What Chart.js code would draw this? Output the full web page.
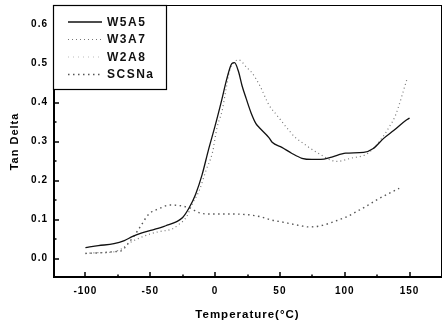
<!DOCTYPE html>
<html>
<head>
<meta charset="utf-8">
<script src="https://cdn.jsdelivr.net/npm/chart.js@4.4.1/dist/chart.umd.min.js"></script>
<style>
html,body{margin:0;padding:0;background:#fff;}
#c{display:block;}
</style>
</head>
<body>
<canvas id="c" width="443" height="328"></canvas>
<script>
// ---- data ----
const seriesNames = ["W5A5", "W3A7", "W2A8", "SCSNa"];

const w5a5Temp = [-100,-90,-78,-70,-64,-57,-51,-44,-38,-30,-25,-20,-15,-10,-5,0,5,9,13,15,18,20.8,24,27.7,31.5,34,41.5,44,51.5,59,67,74.6,81.5,90,100.7,114.6,122,130,137.7,147,150];
const w5a5Val  = [0.028,0.033,0.038,0.046,0.056,0.065,0.071,0.077,0.084,0.094,0.105,0.13,0.165,0.215,0.28,0.34,0.405,0.46,0.50,0.502,0.48,0.443,0.41,0.374,0.346,0.336,0.31,0.298,0.285,0.27,0.257,0.254,0.254,0.26,0.27,0.272,0.282,0.308,0.328,0.354,0.36];

const w3a7Temp = [-100,-90,-80,-72,-66,-60,-50,-43,-33,-28,-22,-18,-12,-7,-2,1.5,5.5,8.5,11,15,18.5,24.6,28.5,35,41.5,48.5,54.6,62,66,78.5,94,104.6,118,128.5,135,139,148];
const w3a7Val  = [0.013,0.015,0.016,0.025,0.04,0.05,0.063,0.069,0.076,0.087,0.107,0.137,0.176,0.226,0.272,0.336,0.38,0.435,0.48,0.505,0.509,0.489,0.476,0.44,0.394,0.364,0.338,0.31,0.30,0.272,0.249,0.257,0.27,0.308,0.341,0.366,0.46];

// W2A8 is listed in the legend but no separate curve can be distinguished in the picture
const w2a8Temp = [];
const w2a8Val  = [];

const scsnaTemp = [-100,-87,-76,-72,-68,-62,-58,-51,-43,-35,-28,-20,-12,-5,3,13,26,35,43,51,58.5,66,72,78,85,92,101.5,109,117,126,136,142];
const scsnaVal  = [0.013,0.015,0.018,0.02,0.035,0.06,0.08,0.114,0.128,0.137,0.136,0.13,0.117,0.114,0.114,0.114,0.112,0.107,0.099,0.094,0.089,0.084,0.081,0.082,0.087,0.095,0.107,0.12,0.135,0.153,0.17,0.18];

const xTicks = [-100, -50, 0, 50, 100, 150];
const yTicks = [0.0, 0.1, 0.2, 0.3, 0.4, 0.5, 0.6];
const xMinorTicks = [-75, -25, 25, 75, 125];
const yMinorTicks = [0.05, 0.15, 0.25, 0.35, 0.45, 0.55];

const toPts = (xs, ys) => xs.map((x, i) => ({x: x, y: ys[i]}));

const FONT = "'Liberation Sans', Arial, sans-serif";

const spacing = {
  id: 'spacing',
  beforeDraw(chart) { chart.ctx.letterSpacing = '1px'; }
};

const frameAndTicks = {
  id: 'frameAndTicks',
  afterDatasetsDraw(chart) {
    const ctx = chart.ctx, a = chart.chartArea;
    const xs = chart.scales.x, ys = chart.scales.y;
    ctx.save();
    ctx.strokeStyle = '#000';
    ctx.lineWidth = 1;
    ctx.beginPath();
    ctx.moveTo(a.left, a.top + 0.5); ctx.lineTo(a.right, a.top + 0.5);
    ctx.moveTo(a.right - 0.5, a.top); ctx.lineTo(a.right - 0.5, a.bottom);
    ctx.stroke();
    ctx.lineWidth = 2;
    ctx.beginPath();
    ctx.moveTo(a.left + 1, a.top); ctx.lineTo(a.left + 1, a.bottom);
    ctx.moveTo(a.left, a.bottom - 1); ctx.lineTo(a.right, a.bottom - 1);
    ctx.stroke();
    ctx.lineWidth = 1.5;
    ctx.beginPath();
    xTicks.forEach(v => { const p = Math.round(xs.getPixelForValue(v)); ctx.moveTo(p, a.bottom); ctx.lineTo(p, a.bottom - 6); });
    xMinorTicks.forEach(v => { const p = Math.round(xs.getPixelForValue(v)); ctx.moveTo(p, a.bottom); ctx.lineTo(p, a.bottom - 3.5); });
    yTicks.forEach(v => { const p = Math.round(ys.getPixelForValue(v)); ctx.moveTo(a.left, p); ctx.lineTo(a.left + 6, p); });
    yMinorTicks.forEach(v => { const p = Math.round(ys.getPixelForValue(v)); ctx.moveTo(a.left, p); ctx.lineTo(a.left + 3.5, p); });
    ctx.stroke();
    ctx.restore();
  }
};

const boxLegend = {
  id: 'boxLegend',
  afterDraw(chart) {
    const ctx = chart.ctx, a = chart.chartArea;
    const L = a.left, T = a.top, W = 113, H = 84;
    ctx.save();
    ctx.fillStyle = '#fff';
    ctx.fillRect(L, T, W, H);
    ctx.strokeStyle = '#000';
    ctx.lineWidth = 1.2;
    ctx.strokeRect(L + 0.5, T + 0.5, W, H);
    ctx.font = 'bold 12px ' + FONT;
    ctx.letterSpacing = '1.5px';
    ctx.textBaseline = 'middle';
    chart.data.datasets.forEach((ds, i) => {
      const y = T + 17 + i * 17.5;
      ctx.strokeStyle = ds.borderColor;
      ctx.lineWidth = ds.borderWidth;
      ctx.setLineDash(ds.borderDash || []);
      ctx.beginPath();
      ctx.moveTo(L + 15, y); ctx.lineTo(L + 49, y);
      ctx.stroke();
      ctx.setLineDash([]);
      ctx.fillStyle = '#111';
      ctx.fillText(ds.label, L + 54, y + 0.5);
    });
    ctx.restore();
  }
};

const mk = (label, xs, ys, color, width, dash) => ({
  label: label,
  data: toPts(xs, ys),
  borderColor: color,
  borderWidth: width,
  borderDash: dash,
  pointRadius: 0,
  fill: false,
  cubicInterpolationMode: 'monotone'
});

new Chart(document.getElementById('c'), {
  type: 'line',
  data: {
    datasets: [
      mk(seriesNames[0], w5a5Temp, w5a5Val, '#111', 1.3, []),
      mk(seriesNames[1], w3a7Temp, w3a7Val, '#777', 1.2, [1, 3]),
      mk(seriesNames[2], w2a8Temp, w2a8Val, '#bbb', 1.2, [1, 4]),
      mk(seriesNames[3], scsnaTemp, scsnaVal, '#555', 1.4, [1.5, 3.5])
    ]
  },
  options: {
    responsive: false,
    animation: false,
    devicePixelRatio: 1,
    layout: { padding: { top: 5, right: 1, left: 0, bottom: 0 } },
    plugins: { legend: { display: false }, tooltip: { enabled: false } },
    scales: {
      x: {
        type: 'linear', min: -125, max: 175,
        grid: { display: false, drawTicks: false },
        border: { display: false },
        afterBuildTicks: s => { s.ticks = xTicks.map(v => ({ value: v })); },
        afterFit: s => { s.height = 50; s.paddingLeft = 0; s.paddingRight = 0; },
        ticks: { padding: 7, color: '#000', font: { family: FONT, size: 10, weight: 'bold' }, maxRotation: 0 },
        title: { display: true, text: 'Temperature(°C)', color: '#000', font: { family: FONT, size: 11.5, weight: 'bold' }, padding: { top: 4, bottom: 6 } }
      },
      y: {
        type: 'linear', min: -0.05, max: 0.65,
        grid: { display: false, drawTicks: false },
        border: { display: false },
        afterBuildTicks: s => { s.ticks = yTicks.map(v => ({ value: v })); },
        afterFit: s => { s.width = 53; s.paddingTop = 0; s.paddingBottom = 0; },
        ticks: { padding: 5, color: '#000', font: { family: FONT, size: 10, weight: 'bold' }, callback: v => v.toFixed(1) },
        title: { display: true, text: 'Tan Delta', color: '#000', font: { family: FONT, size: 11, weight: 'bold' }, padding: { top: 8, bottom: 8 } }
      }
    }
  },
  plugins: [spacing, frameAndTicks, boxLegend]
});
</script>
</body>
</html>
